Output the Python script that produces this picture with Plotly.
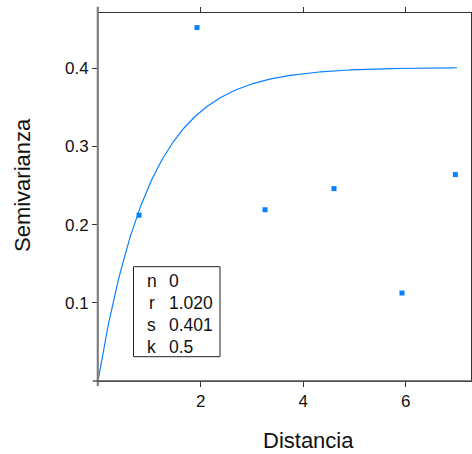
import numpy as np
import plotly.graph_objects as go

# Empirical semivariogram (lag distance, semivariance)
distancia = [0.80, 1.93, 3.255, 4.60, 5.925, 6.965]
semivarianza = [0.212, 0.452, 0.219, 0.246, 0.1125, 0.264]

# Fitted model parameters (Matérn, k = 0.5 -> exponential)
param_names = ["n", "r", "s", "k"]
param_labels = ["0", "1.020", "0.401", "0.5"]
nugget, rango, meseta, kappa = 0.0, 1.020, 0.401, 0.5

x_ticks = [2, 4, 6]
y_ticks = [0.1, 0.2, 0.3, 0.4]

W, H = 472, 454
ML, MR, MT, MB = 98, 1, 13, 73
PW, PH = W - ML - MR, H - MT - MB

BLUE = "#0a80ff"
FONT = "Liberation Sans, Arial, Helvetica, sans-serif"


def px_x(p):
    return (p - ML) / PW


def px_y(p):
    return (H - MB - p) / PH


h = np.linspace(0, 7.0, 300)
gamma = nugget + meseta * (1 - np.exp(-h / rango))

fig = go.Figure()
fig.add_trace(go.Scatter(x=h, y=gamma, mode="lines",
                         line=dict(color=BLUE, width=1.2),
                         hoverinfo="skip", showlegend=False))
fig.add_trace(go.Scatter(x=distancia, y=semivarianza, mode="markers",
                         marker=dict(symbol="square", size=5, color=BLUE,
                                     line=dict(width=0)),
                         showlegend=False))

axis_common = dict(showgrid=False, zeroline=False, showline=True,
                   linecolor="#333333", linewidth=1, mirror="ticks",
                   ticks="outside", ticklen=5, tickwidth=1,
                   tickcolor="#333333", automargin=False,
                   tickfont=dict(family=FONT, size=17, color="#111111"))

fig.update_xaxes(range=[0, 7.27], tickvals=x_ticks,
                 ticktext=[str(v) for v in x_ticks], **axis_common)
fig.update_yaxes(range=[0, 0.4706], tickvals=y_ticks,
                 ticktext=[f"{v:.1f}" for v in y_ticks], **axis_common)

shapes = [
    # gray left axis line, extending past the frame
    dict(type="line", xref="paper", yref="paper",
         x0=px_x(97.8), x1=px_x(97.8), y0=px_y(6.7), y1=px_y(386),
         line=dict(color="#7f7f7f", width=2.2)),
    # bottom axis line, extending past the frame
    dict(type="line", xref="paper", yref="paper",
         x0=px_x(92.7), x1=px_x(472), y0=0, y1=0,
         line=dict(color="#555555", width=1.3)),
    # parameter box
    dict(type="rect", xref="paper", yref="paper",
         x0=px_x(133.5), x1=px_x(220), y0=px_y(356.7), y1=px_y(266.7),
         line=dict(color="#222222", width=1), fillcolor="white"),
]

annotations = []
row_centres = [280.5, 302.5, 324.5, 346.5]
for name, val, yc in zip(param_names, param_labels, row_centres):
    annotations.append(dict(x=px_x(151.5), y=px_y(yc), xref="paper", yref="paper",
                            text=name, showarrow=False, xanchor="center",
                            yanchor="middle",
                            font=dict(family=FONT, size=17.5, color="#111111")))
    annotations.append(dict(x=px_x(166.5), y=px_y(yc), xref="paper", yref="paper",
                            text=val, showarrow=False, xanchor="left",
                            yanchor="middle",
                            font=dict(family=FONT, size=17.5, color="#111111")))

# Axis titles
annotations.append(dict(x=px_x(308), y=px_y(440), xref="paper", yref="paper",
                        text="Distancia", showarrow=False, xanchor="center",
                        yanchor="middle",
                        font=dict(family=FONT, size=22, color="#111111")))
annotations.append(dict(x=px_x(22), y=px_y(185), xref="paper", yref="paper",
                        text="Semivarianza", showarrow=False, textangle=-90,
                        xanchor="center", yanchor="middle",
                        font=dict(family=FONT, size=22, color="#111111")))

fig.update_layout(width=W, height=H,
                  margin=dict(l=ML, r=MR, t=MT, b=MB, autoexpand=False),
                  paper_bgcolor="white", plot_bgcolor="white",
                  shapes=shapes, annotations=annotations,
                  showlegend=False)

fig.write_html("out.html")
